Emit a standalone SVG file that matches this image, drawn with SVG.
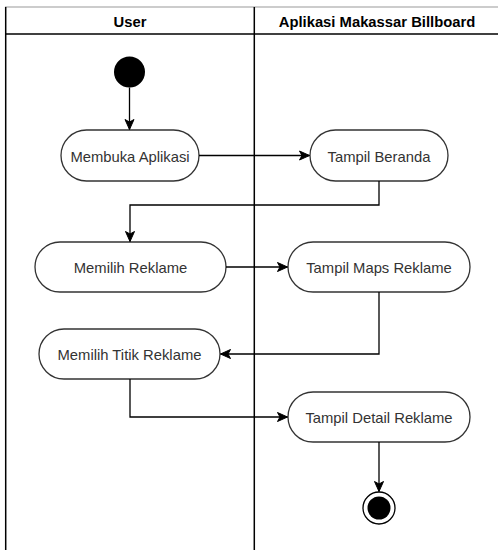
<svg xmlns="http://www.w3.org/2000/svg" width="498" height="550" viewBox="0 0 498 550">
  <defs>
    <style>
      .lane { fill: none; stroke: #000; stroke-width: 1.5; }
      .hdr { font-family: "Liberation Sans", Arial, sans-serif; font-size: 14.8px; font-weight: bold; fill: #000; text-anchor: middle; }
      .node rect { fill: #fff; stroke: #333; stroke-width: 1.3; }
      .node text { font-family: "Liberation Sans", Arial, sans-serif; font-size: 14.8px; fill: #333; text-anchor: middle; }
      .conn { fill: none; stroke: #000; stroke-width: 1.3; }
    </style>
    <marker id="arrow" markerUnits="userSpaceOnUse" markerWidth="12" markerHeight="12" viewBox="0 0 12 12" refX="11" refY="6" orient="auto">
      <path d="M1,1.5 L11,6 L1,10.5 L3.5,6 Z" fill="#000" stroke="#000" stroke-width="1"/>
    </marker>
  </defs>
  <rect width="498" height="550" fill="#fff"/>

  <g id="pool">
    <line x1="5" y1="7" x2="498" y2="7" stroke="#999" stroke-width="1"/>
    <line class="lane" x1="5.7" y1="7" x2="5.7" y2="550"/>
    <line class="lane" x1="5.7" y1="34" x2="498" y2="34"/>
    <line class="lane" x1="254.3" y1="7" x2="254.3" y2="550"/>
    <text class="hdr" x="130" y="27">User</text>
    <text class="hdr" x="377" y="27">Aplikasi Makassar Billboard</text>
  </g>

  <g id="start">
    <circle cx="129.5" cy="72" r="15.5" fill="#000"/>
  </g>

  <g id="n1" class="node">
    <rect x="61" y="130" width="138" height="51" rx="25.5"/>
    <text x="130" y="161.5">Membuka Aplikasi</text>
  </g>
  <g id="n2" class="node">
    <rect x="310" y="130" width="138" height="51" rx="25.5"/>
    <text x="379" y="161.5">Tampil Beranda</text>
  </g>
  <g id="n3" class="node">
    <rect x="35" y="242" width="191" height="50" rx="25"/>
    <text x="130.5" y="273">Memilih Reklame</text>
  </g>
  <g id="n4" class="node">
    <rect x="288" y="242" width="182" height="50" rx="25"/>
    <text x="379" y="273">Tampil Maps Reklame</text>
  </g>
  <g id="n5" class="node">
    <rect x="39" y="329" width="181" height="50" rx="25"/>
    <text x="129.5" y="360">Memilih Titik Reklame</text>
  </g>
  <g id="n6" class="node">
    <rect x="288" y="392" width="182" height="50" rx="25"/>
    <text x="379" y="423">Tampil Detail Reklame</text>
  </g>

  <g id="end">
    <circle cx="379" cy="508" r="16" fill="#fff" stroke="#000" stroke-width="1.3"/>
    <circle cx="379" cy="508" r="11.5" fill="#000"/>
  </g>

  <g id="connectors">
    <path class="conn" d="M129.5,87.5 L129.5,129.5" marker-end="url(#arrow)"/>
    <path class="conn" d="M199,155.5 L309.5,155.5" marker-end="url(#arrow)"/>
    <path class="conn" d="M379,181 L379,205 L130,205 L130,241.5" marker-end="url(#arrow)"/>
    <path class="conn" d="M226,267 L287.5,267" marker-end="url(#arrow)"/>
    <path class="conn" d="M379,292 L379,354 L220.5,354" marker-end="url(#arrow)"/>
    <path class="conn" d="M130,379 L130,417 L287.5,417" marker-end="url(#arrow)"/>
    <path class="conn" d="M379,442 L379,491.5" marker-end="url(#arrow)"/>
  </g>
</svg>
